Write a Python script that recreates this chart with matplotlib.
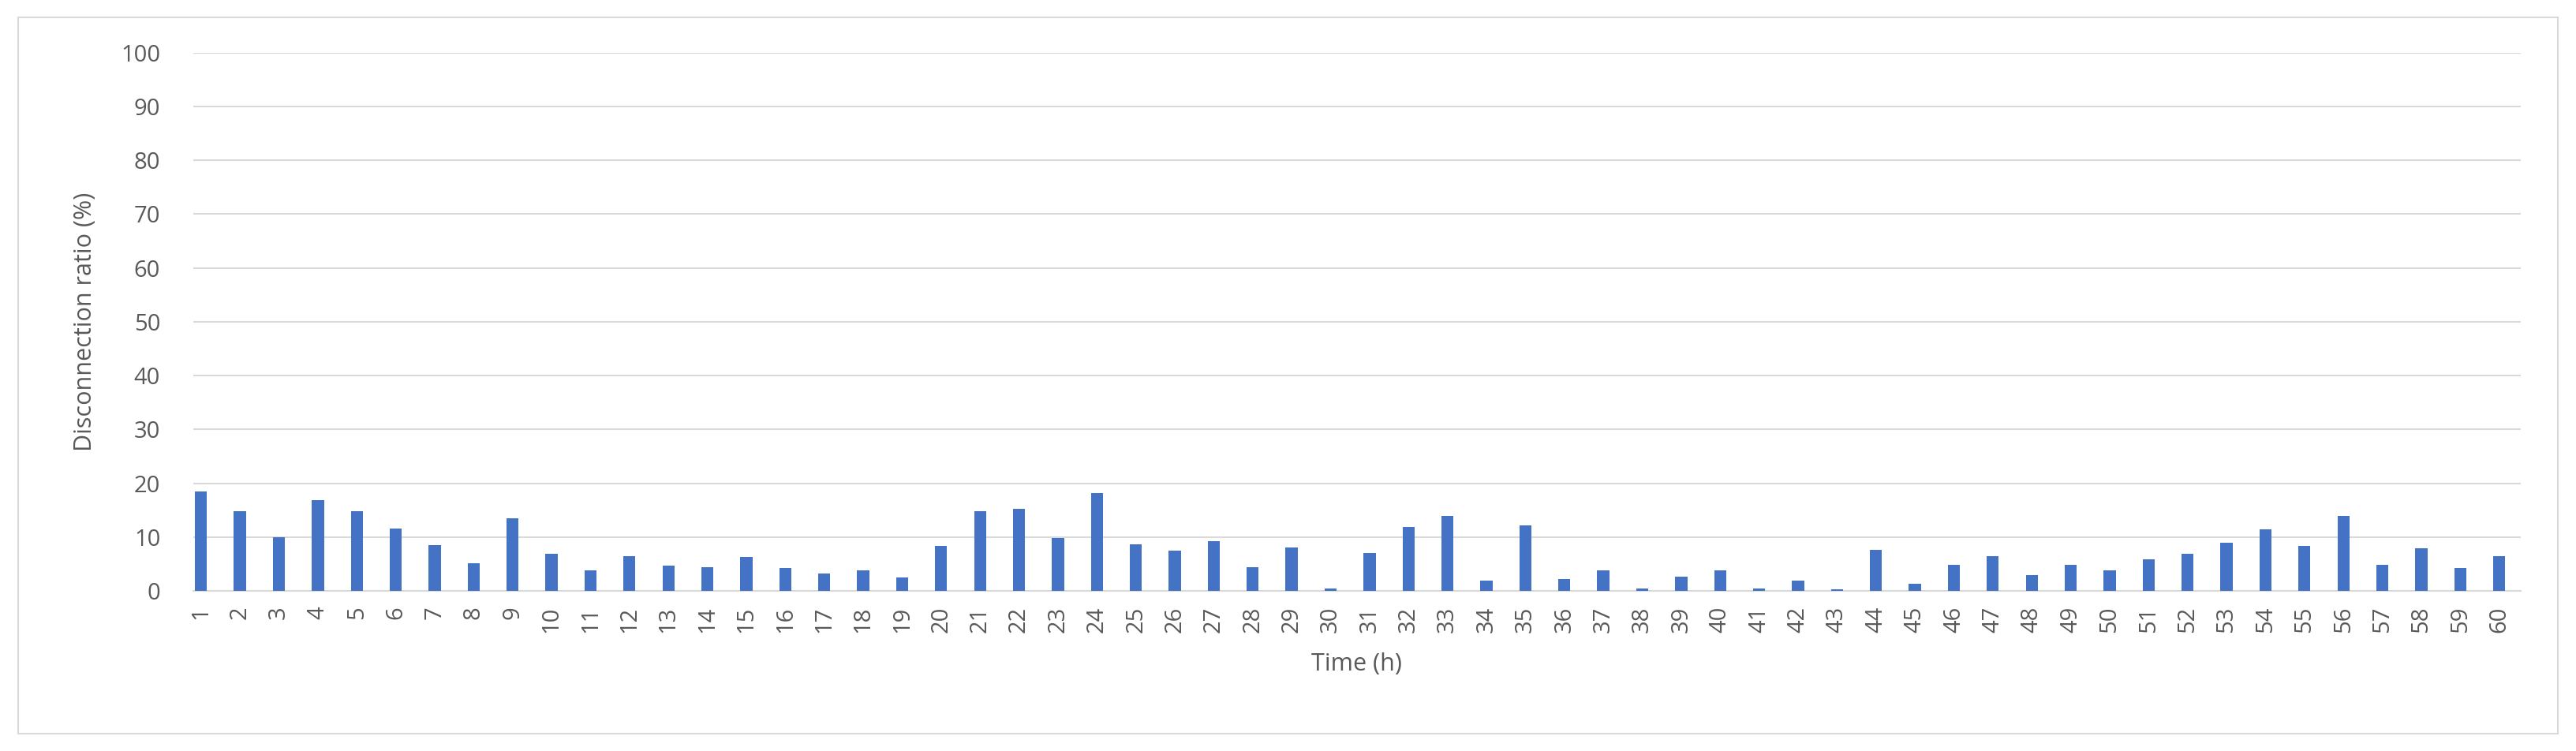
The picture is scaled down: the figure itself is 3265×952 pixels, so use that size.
import matplotlib
matplotlib.use("Agg")
import matplotlib.pyplot as plt
from matplotlib.patches import Rectangle

hours = list(range(1, 61))
ratio = [18.5, 14.8, 10.0, 16.9, 14.8, 11.6, 8.6, 5.2, 13.5, 6.9,
         3.9, 6.5, 4.7, 4.4, 6.4, 4.3, 3.3, 3.9, 2.5, 8.4,
         14.8, 15.3, 9.9, 18.2, 8.7, 7.5, 9.3, 4.5, 8.1, 0.4,
         7.0, 11.9, 13.9, 2.0, 12.2, 2.2, 3.9, 0.4, 2.7, 3.9,
         0.4, 2.0, 0.3, 7.6, 1.3, 4.8, 6.5, 2.9, 4.9, 3.9,
         5.9, 6.9, 8.9, 11.4, 8.4, 13.9, 4.9, 8.0, 4.3, 6.5]
yticks = list(range(0, 101, 10))

plt.rcParams['font.family'] = ['Open Sans', 'DejaVu Sans']
fig = plt.figure(figsize=(32.65, 9.52), dpi=100)
fig.patches.append(Rectangle((0.007, 0.023), 0.986, 0.954, transform=fig.transFigure,
                             fill=False, edgecolor='#D9D9D9', linewidth=1.5))
ax = fig.add_axes([0.075, 0.213, 0.9035, 0.717])
ax.bar(hours, ratio, width=0.31, color='#4472C4', zorder=3)
ax.set_xlim(0.8, 60.55)
ax.set_ylim(0, 100)
ax.set_yticks(yticks)
ax.set_xticks(hours)
ax.set_xticklabels([str(h) for h in hours], rotation=90)
ax.grid(axis='y', color='#D9D9D9', linewidth=1.5, zorder=0)
for s in ['top', 'right', 'left']:
    ax.spines[s].set_visible(False)
ax.spines['bottom'].set_color('#D9D9D9')
ax.spines['bottom'].set_linewidth(1.5)
ax.tick_params(axis='y', length=0, labelsize=21, labelcolor='#595959', pad=30)
ax.tick_params(axis='x', length=0, labelsize=21, labelcolor='#595959', pad=14)
ax.set_xlabel('Time (h)', fontsize=22, color='#595959', labelpad=18)
ax.set_ylabel('Disconnection ratio (%)', fontsize=22, color='#595959', labelpad=22)
fig.savefig('out.png', dpi=100)
